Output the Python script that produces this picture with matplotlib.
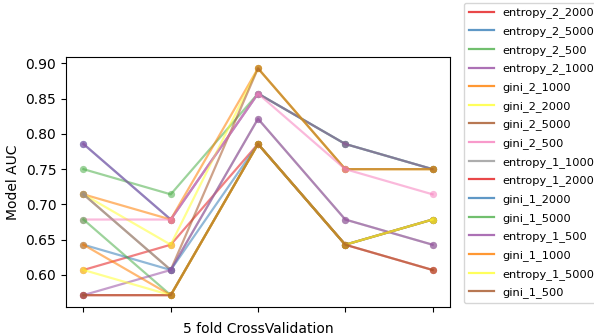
import matplotlib
matplotlib.use("Agg")
import matplotlib.pyplot as plt
from matplotlib.lines import Line2D
import numpy as np

folds = [1, 2, 3, 4, 5]

names = [
  "entropy_2_2000", "entropy_2_5000", "entropy_2_500", "entropy_2_1000",
  "gini_2_1000", "gini_2_2000", "gini_2_5000", "gini_2_500",
  "entropy_1_1000", "entropy_1_2000", "gini_1_2000", "gini_1_5000",
  "entropy_1_500", "gini_1_1000", "entropy_1_5000", "gini_1_500",
]

# AUC per fold (values sit on multiples of 1/28)
entropy_2_2000 = [0.6071, 0.6429, 0.7857, 0.6429, 0.6786]
entropy_2_5000 = [0.7857, 0.6786, 0.8571, 0.7857, 0.7500]
entropy_2_500 = [0.7500, 0.7143, 0.8571, 0.7857, 0.7500]
entropy_2_1000 = [0.7857, 0.6786, 0.8571, 0.7857, 0.7500]
gini_2_1000 = [0.7143, 0.6786, 0.8929, 0.7500, 0.7500]
gini_2_2000 = [0.7143, 0.6429, 0.8929, 0.7500, 0.7500]
gini_2_5000 = [0.7143, 0.6071, 0.8929, 0.7500, 0.7500]
gini_2_500 = [0.6786, 0.6786, 0.8571, 0.7500, 0.7143]
entropy_1_1000 = [0.7143, 0.6071, 0.8214, 0.6786, 0.6429]
entropy_1_2000 = [0.5714, 0.5714, 0.7857, 0.6429, 0.6071]
gini_1_2000 = [0.6429, 0.6071, 0.7857, 0.6429, 0.6786]
gini_1_5000 = [0.6786, 0.5714, 0.7857, 0.6429, 0.6786]
entropy_1_500 = [0.5714, 0.6071, 0.8214, 0.6786, 0.6429]
gini_1_1000 = [0.6429, 0.5714, 0.7857, 0.6429, 0.6786]
entropy_1_5000 = [0.6071, 0.5714, 0.7857, 0.6429, 0.6786]
gini_1_500 = [0.5714, 0.5714, 0.7857, 0.6429, 0.6071]

series = [
  entropy_2_2000, entropy_2_5000, entropy_2_500, entropy_2_1000,
  gini_2_1000, gini_2_2000, gini_2_5000, gini_2_500,
  entropy_1_1000, entropy_1_2000, gini_1_2000, gini_1_5000,
  entropy_1_500, gini_1_1000, entropy_1_5000, gini_1_500,
]

palette = plt.get_cmap("Set1").colors

fig = plt.figure(figsize=(5.94, 3.35), dpi=100)
ax = fig.add_axes([66 / 594, 1 - 306.5 / 335, (450 - 66) / 594, (306.5 - 57) / 335])

handles = []
for i, (name, vals) in enumerate(zip(names, series)):
  c = palette[i % len(palette)]
  ax.plot(folds, vals, color=c, alpha=0.55, linewidth=1.6,
          marker="o", markersize=5.2, markeredgewidth=0)
  handles.append(Line2D([], [], color=c, alpha=0.8, linewidth=1.6, label=name))

ax.set_xticks(folds)
ax.set_xticklabels([])
ax.set_yticks(np.arange(0.60, 0.901, 0.05))
ax.tick_params(labelsize=10)
ax.set_xlabel("5 fold CrossValidation", fontsize=10)
ax.set_ylabel("Model AUC", fontsize=10)

fig.legend(handles=handles, loc="upper left",
           bbox_to_anchor=(464 / 594, 1 - 3 / 335),
           borderaxespad=0, fontsize=8.2, labelspacing=0.68,
           handlelength=2.2)

fig.savefig("out.png", dpi=100)
